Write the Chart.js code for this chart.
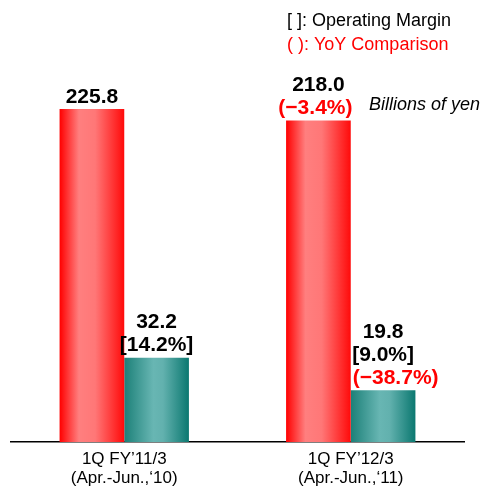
<!DOCTYPE html>
<html>
<head>
<meta charset="utf-8">
<script src="https://cdn.jsdelivr.net/npm/chart.js@4/dist/chart.umd.min.js"></script>
<style>
  html, body { margin: 0; padding: 0; background: #fff; }
  #wrap { width: 484px; height: 486px; }
</style>
</head>
<body>
<div id="wrap"><canvas id="bar-chartcanvas-1"></canvas></div>
<script>
// data
var categories = [["1Q FY\u201911/3", "(Apr.-Jun.,\u201810)"], ["1Q FY\u201912/3", "(Apr.-Jun.,\u201811)"]];
var netSales = [225.8, 218.0];
var operatingIncome = [32.2, 19.8];
var marginLabels = ["[14.2%]", "[9.0%]"];
var salesYoy = ["", "(\u22123.4%)"];
var incomeYoy = ["", "(\u221238.7%)"];

// bar shading
var redStops = [[0, "#ff0000"], [0.3, "#ff7f7f"], [0.55, "#ff7777"], [1, "#ff0a0a"]];
var tealStops = [[0, "#1c8078"], [0.45, "#68b6b3"], [0.6, "#62b1ae"], [1, "#0b7870"]];

var barGradient = {
	id : "barGradient",
	beforeDatasetsDraw : function (chart) {
		var c = chart.ctx;
		chart.data.datasets.forEach(function (ds, i) {
			chart.getDatasetMeta(i).data.forEach(function (el) {
				var g = c.createLinearGradient(el.x - el.width / 2, 0, el.x + el.width / 2, 0);
				ds.stops.forEach(function (s) { g.addColorStop(s[0], s[1]); });
				el.options.backgroundColor = g;
			});
		});
	}
};

var labelsPlugin = {
	id : "barLabels",
	afterDatasetsDraw : function (chart) {
		var c = chart.ctx;
		c.save();
		c.textBaseline = "middle";
		c.font = "bold 21px 'Liberation Sans', Arial, sans-serif";
		chart.data.datasets.forEach(function (ds, i) {
			chart.getDatasetMeta(i).data.forEach(function (el, j) {
				var lines = [];
				if (ds.yoy[j]) lines.push([ds.yoy[j], "#ff0000", true]);
				if (ds.margin && ds.margin[j]) lines.push([ds.margin[j], "#000"]);
				lines.push([ds.data[j].toFixed(1), "#000"]);
				lines.forEach(function (l, k) {
					c.fillStyle = l[1];
					// the yoy line over the small bar starts at the bar's left edge
					if (l[2] && ds.margin) {
						c.textAlign = "left";
						c.fillText(l[0], el.x - el.width / 2 + 2, el.y - 12 - k * 23);
					} else {
						c.textAlign = "center";
						c.fillText(l[0], el.x - (l[2] ? 3 : 0), el.y - 12 - k * 23);
					}
				});
			});
		});

		// legend notes and unit
		c.textAlign = "left";
		c.font = "18px 'Liberation Sans', Arial, sans-serif";
		c.fillStyle = "#000";
		c.fillText("[ ]: Operating Margin", 287, 21);
		c.fillStyle = "#ff0000";
		c.fillText("( ): YoY Comparison", 287, 45);
		c.fillStyle = "#000";
		c.font = "italic 18px 'Liberation Sans', Arial, sans-serif";
		c.fillText("Billions of yen", 369, 105);
		c.restore();
	}
};

var ctx = document.getElementById("bar-chartcanvas-1");

var data = {
	labels : categories,
	datasets : [
		{
			label : "Net Sales",
			data : netSales,
			yAxisID : "y",
			yoy : salesYoy,
			stops : redStops,
			backgroundColor : function () { return "#ff4040"; },
			borderWidth : 0
		},
		{
			label : "Operating Income",
			data : operatingIncome,
			yAxisID : "y2",
			yoy : incomeYoy,
			margin : marginLabels,
			stops : tealStops,
			backgroundColor : function () { return "#40a09a"; },
			borderWidth : 0
		}
	]
};

var options = {
	responsive : true,
	maintainAspectRatio : false,
	animation : false,
	events : [],
	layout : { padding : { left : 11, right : 20, top : 30, bottom : 0 } },
	plugins : {
		legend : { display : false },
		tooltip : { enabled : false }
	},
	datasets : {
		bar : { categoryPercentage : 0.571, barPercentage : 1 }
	},
	scales : {
		x : {
			grid : { display : false, drawTicks : false },
			border : { display : true, color : "#000", width : 1.5 },
			ticks : {
				color : "#000",
				padding : 8,
				font : { family : "'Liberation Sans', Arial, sans-serif", size : 17, lineHeight : 1.12 }
			},
			afterFit : function (s) { s.height = 44; }
		},
		y : { display : false, min : 0, max : 279.4 },
		y2 : { display : false, min : 0, max : 157.3 }
	}
};

var bar = new Chart(ctx, {
	type : "bar",
	data : data,
	options : options,
	plugins : [barGradient, labelsPlugin]
});
</script>
</body>
</html>
